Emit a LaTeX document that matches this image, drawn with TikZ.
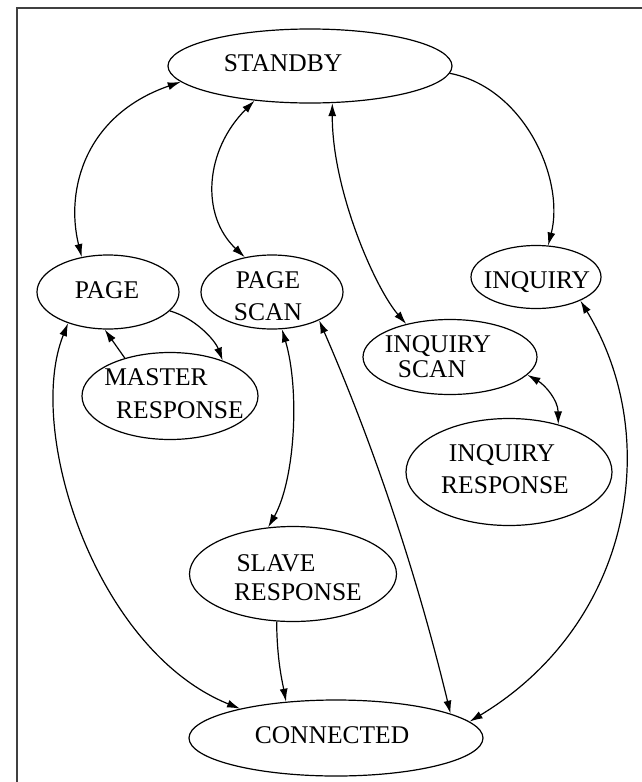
\documentclass[tikz,border=0pt]{standalone}
\usepackage{fontspec}
\setmainfont{Liberation Serif}
\usetikzlibrary{shapes.geometric,arrows.meta}
\begin{document}
\begin{tikzpicture}[x=1pt,y=-1pt,
  st/.style={ellipse,draw,line width=1.2pt,inner sep=0pt},
  lab/.style={font=\fontsize{25.5}{30}\selectfont,text height=17pt,text depth=0pt,inner sep=0pt},
  bidir/.style={line width=1.2pt,{Latex[length=13pt,width=8pt]}-{Latex[length=13pt,width=8pt]}},
  unidir/.style={line width=1.2pt,-{Latex[length=13pt,width=8pt]}},
  frame/.style={line width=1.6pt,black!75}]
\useasboundingbox (0,0) rectangle (642,782);
\draw[frame] (642,8) -- (17,8) -- (17,782);

\node[st,minimum width=284pt,minimum height=74pt,
  label={[lab,xshift=-27pt,yshift=3pt]center:STANDBY}] (standby) at (310,66) {};
\node[st,minimum width=142pt,minimum height=74pt,
  label={[lab,xshift=-1pt,yshift=2pt]center:PAGE}] (page) at (108,292) {};
\node[st,minimum width=142pt,minimum height=74pt,
  label={[lab,xshift=-4pt,yshift=12pt]center:PAGE},
  label={[lab,xshift=-4pt,yshift=-20pt]center:SCAN}] (pagescan) at (272,292) {};
\node[st,minimum width=176pt,minimum height=87pt,
  label={[lab,xshift=-14pt,yshift=19pt]center:MASTER},
  label={[lab,xshift=10pt,yshift=-14pt]center:RESPONSE}] (master) at (170,396) {};
\node[st,minimum width=130pt,minimum height=63pt,
  label={[lab,xshift=1pt,yshift=-3pt]center:INQUIRY}] (inquiry) at (536,277) {};
\node[st,minimum width=174pt,minimum height=75pt,
  label={[lab,xshift=-12pt,yshift=13pt]center:INQUIRY},
  label={[lab,xshift=-18pt,yshift=-12pt]center:SCAN}] (iscan) at (450,357) {};
\node[st,minimum width=206pt,minimum height=107pt,
  label={[lab,xshift=-7pt,yshift=19pt]center:INQUIRY},
  label={[lab,xshift=-4pt,yshift=-13pt]center:RESPONSE}] (iresp) at (509,472) {};
\node[st,minimum width=207pt,minimum height=95pt,
  label={[lab,xshift=-17pt,yshift=11pt]center:SLAVE},
  label={[lab,xshift=5pt,yshift=-18pt]center:RESPONSE}] (slave) at (293,574) {};
\node[st,minimum width=294pt,minimum height=76pt,
  label={[lab,xshift=-4pt,yshift=3pt]center:CONNECTED}] (connected) at (336,738) {};

\draw[bidir] (standby.187) .. controls (85,115) and (65,190) .. (page.127);
\draw[bidir] (standby.212) .. controls (205,150) and (200,215) .. (pagescan.128);
\draw[bidir] (standby.301) .. controls (332,190) and (375,288) .. (iscan.143);
\draw[unidir] (standby.357) .. controls (525,88) and (565,180) .. (inquiry.69);
\draw[unidir] (page.343) .. controls (195,318) and (215,340) .. (master.34);
\draw[unidir] (master.140) -- (page.265);
\draw[bidir] (page.218) .. controls (25,430) and (95,650) .. (connected.163);
\draw[bidir] (pagescan.285) .. controls (300,390) and (295,480) .. (slave.118);
\draw[bidir] (pagescan.329) .. controls (377,453) and (419,583) .. (connected.12);
\draw[unidir] (slave.251) .. controls (277,660) and (282,680) .. (connected.144);
\draw[bidir] (iscan.347) .. controls (545,385) and (558,400) .. (iresp.44);
\draw[bidir] (inquiry.332) .. controls (665,440) and (630,625) .. (connected.7);
\end{tikzpicture}
\end{document}
